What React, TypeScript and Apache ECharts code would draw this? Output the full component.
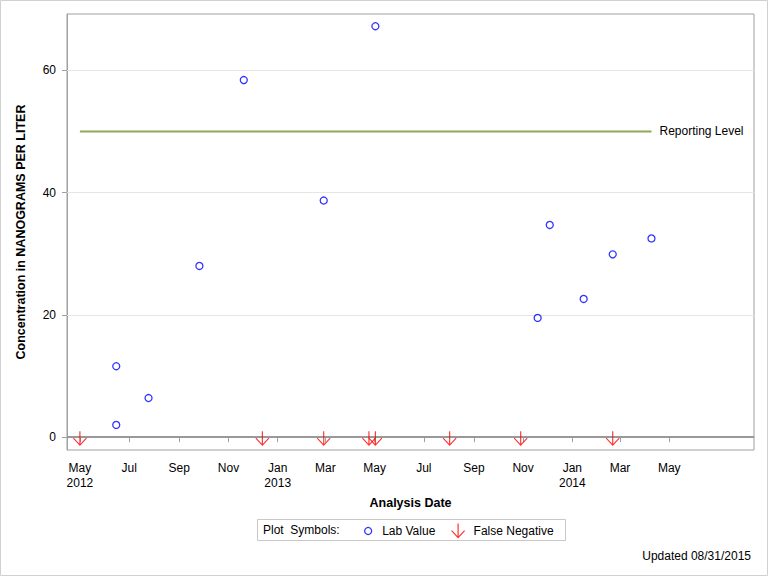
import React, { useEffect, useRef } from 'react';
import * as echarts from 'echarts';

const labDates = [
  '2012-06-15', '2012-06-15', '2012-07-25', '2012-09-26', '2012-11-20', '2013-02-27',
  '2013-05-02', '2013-11-19', '2013-12-04', '2014-01-15', '2014-02-20', '2014-04-09',
];
const labValues = [11.6, 2.0, 6.4, 28.0, 58.4, 38.7, 67.2, 19.5, 34.7, 22.6, 29.9, 32.5];

const falseNegDates = [
  '2012-05-01', '2012-12-13', '2013-02-27', '2013-04-24', '2013-05-02', '2013-08-02',
  '2013-10-29', '2014-02-20',
];
const falseNegValues = [0, 0, 0, 0, 0, 0, 0, 0];

const reportingDates = ['2012-05-01', '2014-04-09'];
const reportingValues = [50, 50];

const xTickDates = [
  '2012-05-01', '2012-07-01', '2012-09-01', '2012-11-01', '2013-01-01', '2013-03-01',
  '2013-05-01', '2013-07-01', '2013-09-01', '2013-11-01', '2014-01-01', '2014-03-01',
  '2014-05-01',
];
const yTicks = [0, 20, 40, 60];
const gridLineValues = [20, 40, 60];
const monthNames = ['Jan', 'Feb', 'Mar', 'Apr', 'May', 'Jun', 'Jul', 'Aug', 'Sep', 'Oct', 'Nov', 'Dec'];

const xMinDate = '2012-04-15';
const xMaxDate = '2014-08-14';
const yMin = -2.1;
const yMax = 69.2;

function ts(s: string): number {
  const [y, m, d] = s.split('-').map(Number);
  return Date.UTC(y, m - 1, d);
}

const FONT = '"Liberation Sans", Arial, Helvetica, sans-serif';
const ARROW = 'path://M6.5,0L6.5,14M0,7L6.5,14L13,7';

export default function App() {
  const ref = useRef<HTMLDivElement>(null);

  useEffect(() => {
    document.body.style.margin = '0';
    if (!ref.current) return;
    const chart = echarts.init(ref.current, null, { renderer: 'svg' });
    const firstTick = ts(xTickDates[0]);

    const option: any = {
      animation: false,
      backgroundColor: '#fff',
      textStyle: { fontFamily: FONT },
      grid: {
        left: 67, top: 14, right: 14, bottom: 126,
        show: true, borderColor: '#a0a0a0', borderWidth: 1, backgroundColor: 'transparent',
      },
      xAxis: {
        type: 'value',
        min: ts(xMinDate),
        max: ts(xMaxDate),
        name: 'Analysis Date',
        nameLocation: 'middle',
        nameGap: 46,
        nameTextStyle: { fontFamily: FONT, fontWeight: 'bold', fontSize: 12.5, color: '#000' },
        axisLine: { show: true, lineStyle: { color: '#a0a0a0' } },
        axisTick: { show: true, length: 5, lineStyle: { color: '#a0a0a0' }, customValues: xTickDates.map(ts) },
        splitLine: { show: false },
        axisLabel: {
          customValues: xTickDates.map(ts),
          fontFamily: FONT, fontSize: 12, color: '#000', lineHeight: 15, margin: 10,
          formatter: (v: number) => {
            const d = new Date(v + 12 * 3600 * 1000);
            const m = d.getUTCMonth();
            const name = monthNames[m];
            if (m === 0 || Math.abs(v - firstTick) < 86400000) return name + '\n' + d.getUTCFullYear();
            return name;
          },
        },
      },
      yAxis: {
        type: 'value',
        min: yMin,
        max: yMax,
        name: 'Concentration in NANOGRAMS PER LITER',
        nameLocation: 'middle',
        nameGap: 40,
        nameTextStyle: { fontFamily: FONT, fontWeight: 'bold', fontSize: 12.5, color: '#000' },
        axisLine: { show: true, lineStyle: { color: '#a0a0a0' } },
        axisTick: { show: true, length: 5, lineStyle: { color: '#a0a0a0' }, customValues: yTicks },
        splitLine: { show: false },
        axisLabel: { customValues: yTicks, fontFamily: FONT, fontSize: 12, color: '#000', margin: 11 },
      },
      legend: [
        {
          data: ['Lab Value'],
          left: 364, top: 525, padding: 0,
          itemWidth: 18, itemHeight: 7,
          selectedMode: false,
          itemStyle: { color: 'transparent', borderColor: '#0000ff', borderWidth: 1.3 },
          textStyle: { fontFamily: FONT, fontSize: 12, color: '#000' },
        },
        {
          data: ['False Negative'],
          left: 451, top: 523, padding: 0,
          itemWidth: 21, itemHeight: 14,
          selectedMode: false,
          itemStyle: { color: 'transparent', borderColor: '#ff0000', borderWidth: 1.2 },
          textStyle: { fontFamily: FONT, fontSize: 12, color: '#000' },
        },
      ],
      graphic: [
        {
          type: 'rect', silent: true,
          shape: { x: 0.5, y: 0.5, width: 767, height: 575 },
          style: { fill: 'none', stroke: '#d0d0d0', lineWidth: 1 },
        },
        {
          type: 'rect', silent: true,
          shape: { x: 257.5, y: 519.5, width: 308, height: 21 },
          style: { fill: 'none', stroke: '#c8c8c8', lineWidth: 1 },
        },
        {
          type: 'text', silent: true, x: 263, y: 530,
          style: { text: 'Plot  Symbols:', fontFamily: FONT, fontSize: 12, fill: '#000', verticalAlign: 'middle' },
        },
        {
          type: 'text', silent: true, x: 751, y: 556,
          style: { text: 'Updated 08/31/2015', fontFamily: FONT, fontSize: 12, fill: '#000', align: 'right', verticalAlign: 'middle' },
        },
      ],
      series: [
        {
          name: 'Reporting Level',
          type: 'line',
          data: reportingDates.map((d, i) => [ts(d), reportingValues[i]]),
          showSymbol: false,
          symbol: 'none',
          lineStyle: { color: '#8fa858', width: 2 },
          itemStyle: { color: '#8fa858' },
          endLabel: { show: true, formatter: 'Reporting Level', distance: 8, color: '#000', fontFamily: FONT, fontSize: 12 },
          silent: true,
          z: 3,
          markLine: {
            silent: true,
            symbol: 'none',
            label: { show: false },
            data: [
              ...gridLineValues.map((v) => ({ yAxis: v, lineStyle: { color: '#e6e6e6', width: 1, type: 'solid' } })),
              { yAxis: 0, lineStyle: { color: '#999999', width: 2, type: 'solid' } },
            ],
            z: 1,
          },
        },
        {
          name: 'Lab Value',
          type: 'scatter',
          data: labDates.map((d, i) => [ts(d), labValues[i]]),
          symbol: 'circle',
          symbolSize: 7,
          itemStyle: { color: 'transparent', borderColor: '#0000ff', borderWidth: 1.3 },
          z: 5,
        },
        {
          name: 'False Negative',
          type: 'scatter',
          data: falseNegDates.map((d, i) => [ts(d), falseNegValues[i]]),
          symbol: ARROW,
          symbolSize: [13, 14],
          symbolOffset: [0, 1],
          itemStyle: { color: 'transparent', borderColor: '#ff0000', borderWidth: 1.2 },
          z: 6,
        },
      ],
    };

    chart.setOption(option);
    return () => chart.dispose();
  }, []);

  return <div ref={ref} style={{ width: 768, height: 576 }} />;
}
